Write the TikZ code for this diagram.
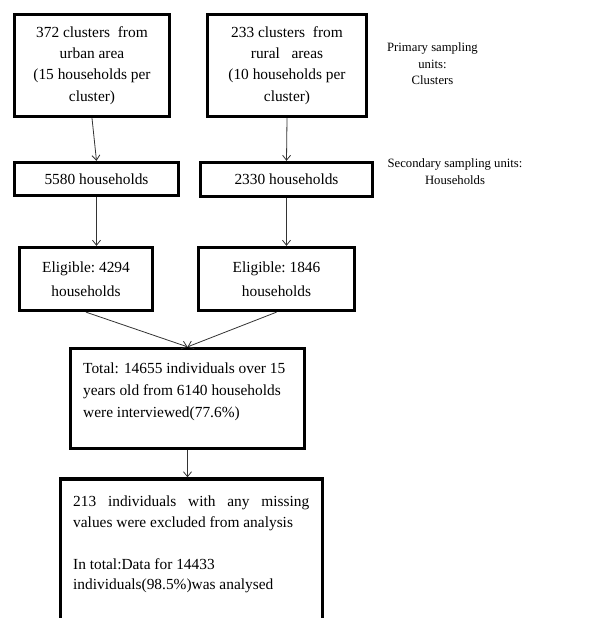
\documentclass[tikz,border=0pt]{standalone}
\usepackage{fontspec}
\setmainfont{Liberation Serif}
\usetikzlibrary{arrows.meta}
\tikzset{
  box/.style={draw=black, line width=3.3pt, inner sep=0pt, align=center,
    font=\fontsize{15.4}{21.3}\selectfont},
  lbl/.style={inner sep=0pt, align=center, font=\fontsize{12.7}{16.5}\selectfont},
  txt/.style={inner sep=0pt, anchor=north west, font=\fontsize{15.4}{21.3}\selectfont},
  conn/.style={draw=black!80, line width=0.8pt, -{Straight Barb[length=5pt,width=8pt]}}
}
\begin{document}
\begin{tikzpicture}[x=1pt,y=-1pt]
\useasboundingbox (0,0) rectangle (607,618);
\clip (0,0) rectangle (607,618);
\node[box, minimum width=155, minimum height=102] (b1) at (92,65.5)
  {372 clusters\ \ from\\urban area\\(15 households per\\cluster)};
\node[box, minimum width=159, minimum height=102] (b2) at (287,65.5)
  {233 clusters\ \ from\\rural\ \ \ areas\\(10 households per\\cluster)};
\node[box, minimum width=164, minimum height=33] (b3) at (96.5,179) {5580 households};
\node[box, minimum width=172, minimum height=34] (b4) at (286.5,179.5) {2330 households};
\node[box, minimum width=133, minimum height=63, font=\fontsize{15.4}{23.5}\selectfont] (b5) at (86,279)
  {Eligible:\ 4294\\households};
\node[box, minimum width=156, minimum height=63, font=\fontsize{15.4}{23.5}\selectfont] (b6) at (276.5,279)
  {Eligible:\ 1846\\households};
\node[box, minimum width=234, minimum height=100] (b7) at (187.5,398.5) {};
\node[txt, align=left, font=\fontsize{15.4}{21.6}\selectfont] (t7) at (83,363)
  {Total: 14655 individuals over 15\\years old from 6140 households\\were interviewed(77.6\%)};
\node[box, minimum width=262, minimum height=160] (b8) at (191.5,559) {};
\node[txt, text width=236, align=justify, font=\fontsize{15.4}{20.3}\selectfont] (t8) at (73,496)
  {213 individuals with any missing\linebreak values were excluded from analysis\par
   \vspace{22pt}\noindent In total:Data for 14433\newline individuals(98.5\%)was analysed};
\node[lbl] (p1) at (432.5,64) {Primary sampling\\units:\\Clusters};
\node[lbl] (p2) at (455,171.5) {Secondary sampling units:\\Households};
\draw[conn] (b1.south) -- (b3.north);
\draw[conn] (b2.south) -- (b4.north);
\draw[conn] (b3.south) -- (b3.south |- b5.north);
\draw[conn] (b4.south) -- (b4.south |- b6.north);
\draw[conn] (b5.south) -- (b7.north);
\draw[conn] (b6.south) -- (b7.north);
\draw[conn] (b7.south) -- (b7.south |- b8.north);
\end{tikzpicture}
\end{document}
